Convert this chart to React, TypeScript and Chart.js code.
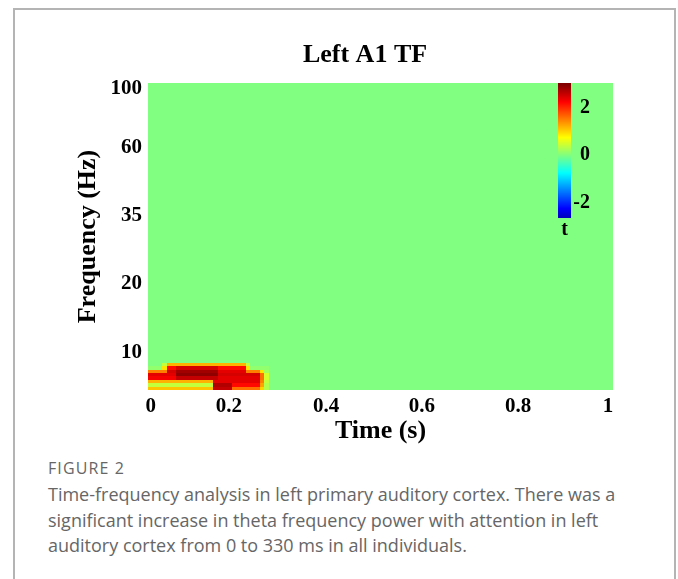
import React, { useEffect, useRef } from 'react';
import { Chart, registerables } from 'chart.js';

Chart.register(...registerables);

// ---------- text ----------
const chartTitle = 'Left A1 TF';
const xAxisTitle = 'Time (s)';
const yAxisTitle = 'Frequency (Hz)';
const captionHead = 'FIGURE 2';
const captionLines = [
  'Time-frequency analysis in left primary auditory cortex. There was a',
  'significant increase in theta frequency power with attention in left',
  'auditory cortex from 0 to 330 ms in all individuals.',
];

// ---------- axes ----------
const timeMin = 0;
const timeMax = 1;
const rowMin = 0; // frequency bin index (bottom of map)
const rowMax = 90; // frequency bin index (top of map)
// tick label positions
const xTickPos = [0.006, 0.174, 0.383, 0.589, 0.796, 0.989];
const xTickLabels = ['0', '0.2', '0.4', '0.6', '0.8', '1'];
const yTickPos = [11.1, 31.1, 51.0, 71.0, 88.5];
const yTickLabels = ['10', '20', '35', '60', '100'];

// ---------- t-values ----------
const tBackground = 0; // value of every cell outside the significant patch
const patchTimeStep = 0.01;
const patchTimeStart = [
  0, 0.01, 0.02, 0.03, 0.04, 0.05, 0.06, 0.07, 0.08, 0.09, 0.1, 0.11, 0.12,
  0.13, 0.14, 0.15, 0.16, 0.17, 0.18, 0.19, 0.2, 0.21, 0.22, 0.23, 0.24, 0.25,
];
const patchRows = [0, 1, 2, 3, 4, 5, 6, 7];
const tRow0 = [1.1, 1.1, 1.1, 1.1, 1.1, 1.1, 1.1, 1.1, 1.1, 1.1, 1.1, 1.1, 1.1, 1.1, 2.6, 2.6, 2.6, 2.6, 1.6, 1.6, 1.6, 1.6, 1.6, 1.6, 1.0, 0.3];
const tRow1 = [0.4, 0.4, 0.4, 0.4, 0.4, 0.4, 0.4, 0.4, 0.4, 0.4, 0.4, 0.4, 0.4, 0.4, 2.7, 2.7, 2.7, 2.7, 2.2, 2.2, 2.2, 2.2, 2.2, 2.2, 1.3, 0.3];
const tRow2 = [1.2, 1.2, 1.2, 1.2, 1.2, 1.2, 1.2, 1.2, 1.2, 1.2, 1.2, 1.2, 1.2, 1.2, 2.4, 2.4, 2.4, 2.4, 2.4, 2.4, 2.4, 2.4, 2.4, 2.4, 1.5, 0.4];
const tRow3 = [2.3, 2.3, 2.3, 2.3, 2.3, 2.3, 2.6, 2.6, 2.6, 2.6, 2.6, 2.6, 2.6, 2.6, 2.6, 2.4, 2.4, 2.4, 2.4, 2.4, 2.4, 2.4, 2.4, 2.4, 1.6, 0.5];
const tRow4 = [2.4, 2.4, 2.4, 2.4, 2.4, 2.4, 2.9, 2.9, 2.9, 2.9, 2.9, 2.9, 2.9, 2.9, 2.9, 2.5, 2.5, 2.5, 2.5, 2.5, 2.5, 2.5, 2.5, 2.5, 1.6, 0.5];
const tRow5 = [1.5, 1.5, 1.5, 1.5, 2.5, 2.5, 2.8, 2.8, 2.8, 2.8, 2.8, 2.8, 2.8, 2.8, 2.8, 2.4, 2.4, 2.4, 2.4, 2.4, 2.4, 1.5, 1.5, 1.5, 0.9, 0.2];
const tRow6 = [0.1, 0.1, 0.1, 0.9, 2.2, 2.2, 2.5, 2.5, 2.5, 2.5, 2.5, 2.5, 2.5, 2.5, 2.5, 2.2, 2.2, 2.2, 2.2, 2.2, 2.2, 0.9, 0.1, 0.1, 0.1, 0.1];
const tRow7 = [0, 0, 0, 0.4, 1.2, 1.2, 1.2, 1.2, 1.2, 1.2, 1.2, 1.2, 1.2, 1.2, 1.2, 1.2, 1.2, 1.2, 1.2, 1.2, 1.2, 0.4, 0, 0, 0, 0];
const tPatch = [tRow0, tRow1, tRow2, tRow3, tRow4, tRow5, tRow6, tRow7];

// ---------- colour bar ----------
const colorMin = -3;
const colorMax = 3;
const cbTicks = [2, 0, -2];
const cbLabel = 't';
const cbAxisMin = -2.65;
const cbAxisMax = 3.05;
const cbTime = [0.882, 0.91];
const cbRows = [50.4, 90];

const SERIF = '"Liberation Serif", "Times New Roman", Times, serif';

function jet(v: number): string {
  let p = (v - colorMin) / (colorMax - colorMin);
  p = Math.max(0, Math.min(1, p));
  const c = (d: number) => Math.round(255 * Math.max(0, Math.min(1, 1.5 - Math.abs(4 * p - d))));
  return `rgb(${c(3)},${c(2)},${c(1)})`;
}

function fillCell(ctx: CanvasRenderingContext2D, x: any, y: any, t0: number, t1: number, r0: number, r1: number, v: number) {
  const px0 = Math.round(x.getPixelForValue(t0));
  const px1 = Math.round(x.getPixelForValue(t1));
  const py0 = Math.round(y.getPixelForValue(r1));
  const py1 = Math.round(y.getPixelForValue(r0));
  ctx.fillStyle = jet(v);
  ctx.fillRect(px0, py0, px1 - px0, py1 - py0);
}

const heatmapPlugin = {
  id: 'tfHeatmap',
  beforeDatasetsDraw(chart: any) {
    const { ctx, chartArea, scales } = chart;
    const x = scales.x;
    const y = scales.y;
    ctx.save();
    ctx.beginPath();
    ctx.rect(chartArea.left, chartArea.top, chartArea.right - chartArea.left, chartArea.bottom - chartArea.top);
    ctx.clip();
    fillCell(ctx, x, y, timeMin, timeMax, rowMin, rowMax, tBackground);
    tPatch.forEach((vals, ri) => {
      vals.forEach((v, ci) => {
        fillCell(ctx, x, y, patchTimeStart[ci], patchTimeStart[ci] + patchTimeStep, patchRows[ri], patchRows[ri] + 1, v);
      });
    });
    ctx.restore();
  },
};

const colorbarPlugin = {
  id: 'tfColorbar',
  afterDatasetsDraw(chart: any) {
    const { ctx, scales } = chart;
    const x = scales.x;
    const y = scales.y;
    const left = Math.round(x.getPixelForValue(cbTime[0]));
    const right = Math.round(x.getPixelForValue(cbTime[1]));
    const top = Math.round(y.getPixelForValue(cbRows[1]));
    const bottom = Math.round(y.getPixelForValue(cbRows[0]));
    const h = bottom - top;
    ctx.save();
    for (let py = top; py < bottom; py++) {
      const v = cbAxisMax - ((py - top + 0.5) / h) * (cbAxisMax - cbAxisMin);
      ctx.fillStyle = jet(v);
      ctx.fillRect(left, py, right - left, 1);
    }
    ctx.fillStyle = '#000';
    ctx.font = `bold 20px ${SERIF}`;
    ctx.textAlign = 'right';
    ctx.textBaseline = 'middle';
    cbTicks.forEach((t) => {
      const py = top + ((cbAxisMax - t) / (cbAxisMax - cbAxisMin)) * h;
      ctx.fillText(String(t), right + 19, py);
    });
    ctx.textAlign = 'center';
    ctx.fillText(cbLabel, (left + right) / 2, bottom + 12);
    ctx.restore();
  },
};

const titlePlugin = {
  id: 'tfTitle',
  afterDraw(chart: any) {
    const { ctx } = chart;
    ctx.save();
    ctx.fillStyle = '#000';
    ctx.font = `bold 26px ${SERIF}`;
    ctx.textAlign = 'center';
    ctx.textBaseline = 'middle';
    ctx.fillText(chartTitle, 365, 55);
    ctx.restore();
  },
};

export default function App() {
  const canvasRef = useRef<HTMLCanvasElement | null>(null);

  useEffect(() => {
    const canvas = canvasRef.current;
    if (!canvas) return;
    const chart = new Chart(canvas, {
      type: 'scatter',
      data: { datasets: [{ data: [], showLine: false }] },
      plugins: [heatmapPlugin, colorbarPlugin, titlePlugin],
      options: {
        responsive: false,
        animation: false,
        devicePixelRatio: 1,
        layout: { padding: { left: 70, right: 65, top: 83, bottom: 0 } },
        plugins: { legend: { display: false }, tooltip: { enabled: false }, title: { display: false } },
        scales: {
          x: {
            type: 'linear',
            min: timeMin,
            max: timeMax,
            border: { display: false },
            grid: { display: false, drawTicks: false },
            afterBuildTicks: (axis: any) => {
              axis.ticks = xTickPos.map((v) => ({ value: v }));
            },
            afterFit: (axis: any) => {
              axis.height = 58;
            },
            ticks: {
              autoSkip: false,
              maxRotation: 0,
              padding: 6,
              color: '#000',
              font: { family: SERIF, size: 21, weight: 'bold', lineHeight: 1 },
              callback: (_v: any, i: number) => xTickLabels[i],
            },
            title: {
              display: true,
              text: xAxisTitle,
              color: '#000',
              padding: { top: 1, bottom: 4 },
              font: { family: SERIF, size: 26, weight: 'bold', lineHeight: 1 },
            },
          },
          y: {
            type: 'linear',
            min: rowMin,
            max: rowMax,
            border: { display: false },
            grid: { display: false, drawTicks: false },
            afterBuildTicks: (axis: any) => {
              axis.ticks = yTickPos.map((v) => ({ value: v }));
            },
            afterFit: (axis: any) => {
              axis.width = 78;
            },
            ticks: {
              autoSkip: false,
              padding: 6,
              color: '#000',
              font: { family: SERIF, size: 21, weight: 'bold', lineHeight: 1 },
              callback: (_v: any, i: number) => yTickLabels[i],
            },
            title: {
              display: true,
              text: yAxisTitle,
              color: '#000',
              padding: { top: 5, bottom: 0 },
              font: { family: SERIF, size: 26, weight: 'bold', lineHeight: 1 },
            },
          },
        },
      } as any,
    });
    return () => chart.destroy();
  }, []);

  return (
    <div style={{ position: 'fixed', left: 0, top: 0, width: 678, height: 579, overflow: 'hidden', background: '#fff' }}>
      <div
        style={{
          position: 'absolute',
          left: 13,
          top: 8,
          width: 663,
          height: 600,
          boxSizing: 'border-box',
          border: '2px solid #b4b4b4',
          borderBottom: 'none',
        }}
      />
      <canvas ref={canvasRef} width={678} height={448} style={{ position: 'absolute', left: 0, top: 0, width: 678, height: 448 }} />
      <div
        style={{
          position: 'absolute',
          left: 48,
          top: 458,
          height: 20,
          lineHeight: '20px',
          fontFamily: '"Open Sans", sans-serif',
          fontSize: 16,
          color: '#666',
          letterSpacing: 1.1,
        }}
      >
        {captionHead}
      </div>
      <div
        style={{
          position: 'absolute',
          left: 48,
          top: 482,
          lineHeight: '25.5px',
          fontFamily: '"Open Sans", sans-serif',
          fontSize: 18,
          color: '#666',
          whiteSpace: 'nowrap',
        }}
      >
        {captionLines.map((l, i) => (
          <div key={i}>{l}</div>
        ))}
      </div>
    </div>
  );
}
